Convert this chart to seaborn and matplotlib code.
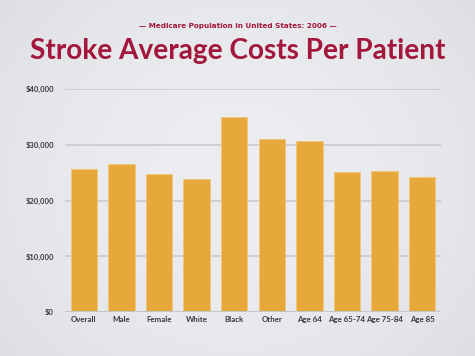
import numpy as np
import pandas as pd
import matplotlib

matplotlib.use("Agg")
import matplotlib.pyplot as plt
import seaborn as sns

# values (USD per patient)
groups = ["Overall", "Male", "Female", "White", "Black", "Other",
          "Age 64", "Age 65-74", "Age 75-84", "Age 85"]
avg_cost = [25600, 26600, 24700, 23900, 35050, 31100, 30750, 25100, 25400, 24200]
y_ticks = [0, 10000, 20000, 30000, 40000]
y_tick_labels = ["$0", "$10,000", "$20,000", "$30,000", "$40,000"]

title = "Stroke Average Costs Per Patient"
subtitle = "\u2014 Medicare Population in United States: 2006 \u2014"

bar_color = "#E6A83A"
title_color = "#A3173C"
label_color = "#3A3A3A"


def main():
    sns.set_theme(style="white")
    plt.rcParams["font.family"] = ["Lato", "DejaVu Sans"]

    df = pd.DataFrame({"group": groups, "cost": avg_cost})

    fig = plt.figure(figsize=(4.75, 3.56), dpi=100)

    # soft slide background with a light vignette
    bg = fig.add_axes([0, 0, 1, 1], zorder=-10)
    yy, xx = np.mgrid[-1:1:200j, -1:1:260j]
    shade = 1 - 0.06 * (xx ** 2 * 0.6 + yy ** 2 * 0.4)
    base = np.array([0.925, 0.93, 0.945])
    img = shade[..., None] * base[None, None, :]
    bg.imshow(np.clip(img, 0, 1), aspect="auto", extent=[0, 1, 0, 1])
    bg.axis("off")

    ax = fig.add_axes([65 / 475, 1 - 312.3 / 356, 376 / 475, (312.3 - 89) / 356])
    ax.patch.set_alpha(0)

    sns.barplot(data=df, x="group", y="cost", color=bar_color, width=0.7,
                saturation=1, edgecolor="#F0C77A", linewidth=0.6, ax=ax, zorder=3)

    ax.set_ylim(0, 40000)
    ax.set_xlim(-0.5, len(groups) - 0.5)
    ax.set_yticks(y_ticks)
    ax.set_yticklabels(y_tick_labels, fontsize=5.5, fontweight="bold", color=label_color)
    ax.set_xticks(range(len(groups)))
    ax.set_xticklabels(groups, fontsize=5.7, fontweight="bold", color=label_color)
    for y in y_ticks[1:]:
        ax.axhline(y, color="#C9CACE", linewidth=1.2, zorder=1)
    ax.axhline(0, color="#C4C5C9", linewidth=2.2, zorder=4)

    ax.set_xlabel("")
    ax.set_ylabel("")
    for s in ax.spines.values():
        s.set_visible(False)
    ax.tick_params(axis="both", length=0)
    ax.tick_params(axis="y", pad=8)
    ax.tick_params(axis="x", pad=3)

    fig.text(0.5, 1 - 26 / 356, subtitle, ha="center", va="center",
             fontsize=5.2, fontweight="bold", color=title_color,
             family=["DejaVu Sans"])
    fig.text(0.5, 1 - 51 / 356, title, ha="center", va="center",
             fontsize=20.2, fontweight="bold", color=title_color)

    fig.savefig("out.png", dpi=100)


if __name__ == "__main__":
    main()
